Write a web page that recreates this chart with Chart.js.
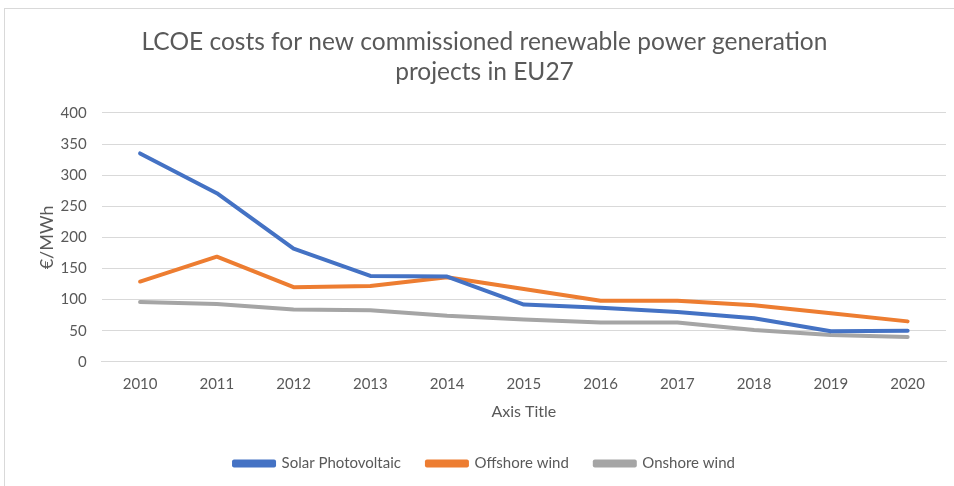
<!DOCTYPE html>
<html>
<head>
<meta charset="utf-8">
<script src="https://cdn.jsdelivr.net/npm/chart.js@4.4.1/dist/chart.umd.min.js"></script>
<style>
  body { margin: 0; background: #fff; overflow: hidden; }
  #frame { position: absolute; left: 4px; top: 8px; width: 960px; height: 490px; border: 1px solid #d9d9d9; }
  #chart { position: absolute; left: 0; top: 0; }
</style>
</head>
<body>
<div id="frame"></div>
<canvas id="chart" width="954" height="486"></canvas>
<script>
var years = ['2010', '2011', '2012', '2013', '2014', '2015', '2016', '2017', '2018', '2019', '2020'];
var solarPV = [335, 271, 182, 138, 137, 92, 87, 80, 70, 49, 50];
var offshoreWind = [129, 169, 120, 122, 136, 117, 98, 98, 91, 78, 65];
var onshoreWind = [96, 93, 84, 83, 74, 68, 63, 63, 51, 43, 40];
var titleLines = ['LCOE costs for new commissioned renewable power generation', 'projects in EU27'];

var textColor = '#595959';
var fontFamily = 'Lato, "Open Sans", sans-serif';

function series(label, data, color) {
    return {
        label: label,
        data: data,
        borderColor: color,
        backgroundColor: color,
        borderWidth: 4,
        pointRadius: 0,
        borderCapStyle: 'round',
        borderJoinStyle: 'round',
        tension: 0
    };
}

var ctx = document.getElementById('chart').getContext('2d');
var chart = new Chart(ctx, {
    type: 'line',
    data: {
        labels: years,
        datasets: [
            series('Solar Photovoltaic', solarPV, '#4472C4'),
            series('Offshore wind', offshoreWind, '#ED7D31'),
            series('Onshore wind', onshoreWind, '#A5A5A5')
        ]
    },
    options: {
        responsive: false,
        animation: false,
        layout: { padding: { left: 23, right: 8, top: 0, bottom: 5 } },
        plugins: {
            title: {
                display: true,
                text: titleLines,
                color: textColor,
                font: { family: fontFamily, size: 24.5, weight: 'normal', lineHeight: 1.224 },
                padding: { top: 27, bottom: 26 }
            },
            legend: {
                position: 'bottom',
                labels: {
                    color: textColor,
                    font: { family: fontFamily, size: 15 },
                    boxWidth: 40,
                    boxHeight: 4,
                    padding: 26
                }
            },
            tooltip: { enabled: false }
        },
        scales: {
            x: {
                offset: true,
                grid: { display: false },
                border: { color: '#d9d9d9' },
                ticks: { color: textColor, font: { family: fontFamily, size: 15 }, padding: 5 },
                title: {
                    display: true,
                    text: 'Axis Title',
                    color: textColor,
                    font: { family: fontFamily, size: 16 },
                    padding: { top: 4, bottom: 9 }
                }
            },
            y: {
                min: 0,
                max: 400,
                ticks: { stepSize: 50, color: textColor, font: { family: fontFamily, size: 15 }, padding: 1 },
                grid: { color: '#d9d9d9', drawTicks: true, tickLength: 14, tickColor: 'rgba(0,0,0,0)' },
                border: { display: false },
                title: {
                    display: true,
                    text: '€/MWh',
                    color: textColor,
                    font: { family: fontFamily, size: 18 },
                    padding: { top: 13, bottom: 2 }
                }
            }
        }
    }
});
</script>
</body>
</html>
